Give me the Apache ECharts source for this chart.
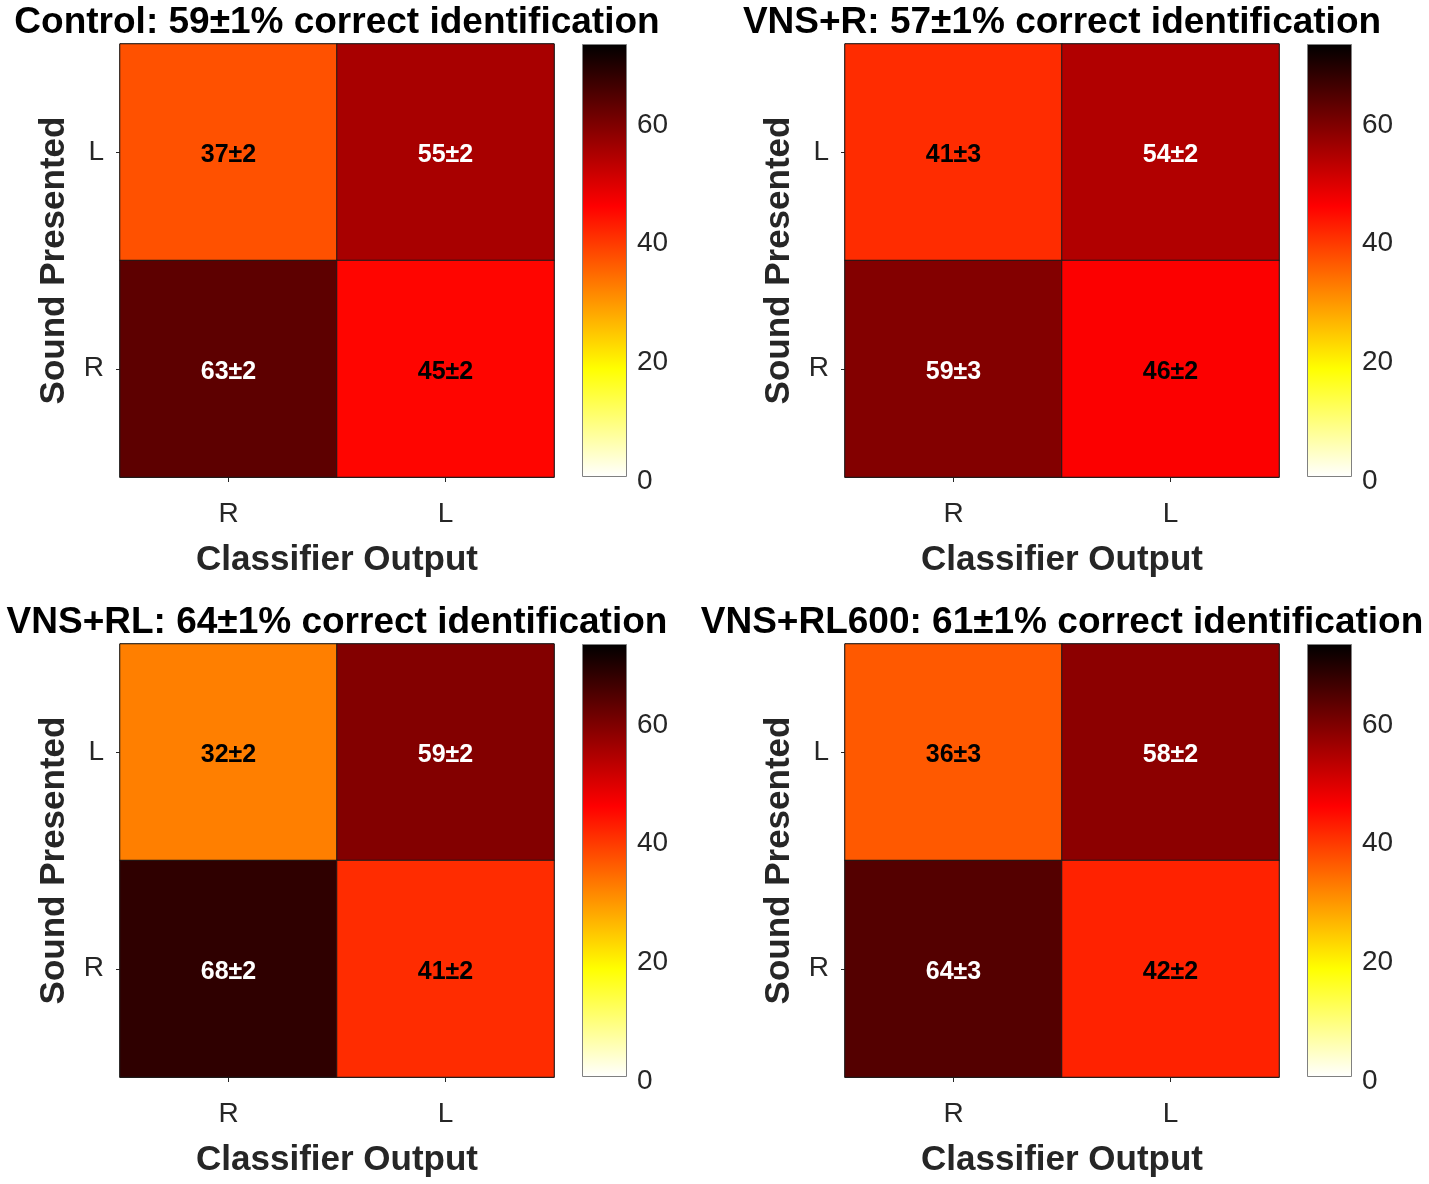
<!DOCTYPE html>
<html>
<head>
<meta charset="utf-8">
<script src="https://cdn.jsdelivr.net/npm/echarts@6/dist/echarts.min.js"></script>
<style>html,body{margin:0;padding:0;background:#fff}#c{width:1429px;height:1184px}</style>
</head>
<body>
<div id="c"></div>
<script>
// ---- data ----
var titles = ['Control: 59\u00b11% correct identification', 'VNS+R: 57\u00b11% correct identification',
              'VNS+RL: 64\u00b11% correct identification', 'VNS+RL600: 61\u00b11% correct identification'];
var xCategories = ['R', 'L'];          // Classifier Output
var yCategories = ['R', 'L'];          // Sound Presented (bottom to top)
// values per panel: [row L: out R, out L], [row R: out R, out L]
var controlL = [37, 55], controlR = [63, 45];
var controlLerr = [2, 2], controlRerr = [2, 2];
var vnsrL = [41, 54], vnsrR = [59, 46];
var vnsrLerr = [3, 2], vnsrRerr = [3, 2];
var vnsrlL = [32, 59], vnsrlR = [68, 41];
var vnsrlLerr = [2, 2], vnsrlRerr = [2, 2];
var vnsrl600L = [36, 58], vnsrl600R = [64, 42];
var vnsrl600Lerr = [3, 2], vnsrl600Rerr = [3, 2];
var colorTicks = [0, 20, 40, 60];
var CMAX = 73;

var panels = [
  {L: controlL, R: controlR, Le: controlLerr, Re: controlRerr},
  {L: vnsrL, R: vnsrR, Le: vnsrLerr, Re: vnsrRerr},
  {L: vnsrlL, R: vnsrlR, Le: vnsrlLerr, Re: vnsrlRerr},
  {L: vnsrl600L, R: vnsrl600R, Le: vnsrl600Lerr, Re: vnsrl600Rerr}
];

// reversed MATLAB "hot" colormap
function hot(t) {
  var r = Math.min(1, t / 0.375), g = Math.max(0, Math.min(1, (t - 0.375) / 0.375)), b = Math.max(0, Math.min(1, (t - 0.75) / 0.25));
  return 'rgb(' + Math.round(r * 255) + ',' + Math.round(g * 255) + ',' + Math.round(b * 255) + ')';
}
var cmap = [];
for (var i = 0; i <= 80; i++) cmap.push(hot(1 - i / 80));

var FONT = '"Liberation Sans", Arial, sans-serif';
var colLeft = [120, 845], rowTop = [44, 644];
var GW = 434, GH = 433, CBOFF = 462, CBW = 45;

var grids = [], xAxes = [], yAxes = [], series = [], graphics = [];
var heatSeries = [], barSeries = [];
panels.forEach(function (p, k) {
  var left = colLeft[k % 2], top = rowTop[Math.floor(k / 2)];
  grids.push({left: left, top: top, width: GW, height: GH, show: true, borderColor: '#262626', borderWidth: 1, backgroundColor: 'transparent'});
  grids.push({left: left + CBOFF, top: top, width: CBW, height: GH});
  var gi = 2 * k;
  xAxes.push({gridIndex: gi, type: 'category', data: xCategories, name: 'Classifier Output', nameLocation: 'middle', nameGap: 66,
    nameTextStyle: {fontFamily: FONT, fontWeight: 'bold', fontSize: 35, color: '#262626'},
    axisLine: {show: true, lineStyle: {color: '#262626'}}, axisTick: {show: true, alignWithLabel: true, length: 5, lineStyle: {color: '#262626'}},
    axisLabel: {fontFamily: FONT, fontSize: 28, color: '#262626', margin: 23}, splitLine: {show: false}});
  yAxes.push({gridIndex: gi, type: 'category', data: yCategories, name: 'Sound Presented', nameLocation: 'middle', nameGap: 48,
    nameTextStyle: {fontFamily: FONT, fontWeight: 'bold', fontSize: 35, color: '#262626'},
    axisLine: {show: true, lineStyle: {color: '#262626'}}, axisTick: {show: true, alignWithLabel: true, length: 4, lineStyle: {color: '#262626'}},
    axisLabel: {fontFamily: FONT, fontSize: 28, color: '#262626', margin: 16}, splitLine: {show: false}});
  xAxes.push({gridIndex: gi + 1, type: 'category', data: [''], show: false});
  yAxes.push({gridIndex: gi + 1, type: 'value', min: 0, max: CMAX, interval: 20, position: 'right',
    axisLine: {show: false}, axisTick: {show: false}, splitLine: {show: false},
    axisLabel: {margin: 10, showMaxLabel: false, formatter: '{a|{value}}',
      rich: {a: {fontFamily: FONT, fontSize: 28, color: '#262626', padding: [8, 0, 0, 0]}}}});
  var data = [];
  [['L', 1], ['R', 0]].forEach(function (row) {
    var vals = p[row[0]], errs = p[row[0] + 'e'];
    vals.forEach(function (v, xi) {
      data.push({value: [xi, row[1], v], err: errs[xi], label: {color: v > 50 ? '#ffffff' : '#000000'}});
    });
  });
  heatSeries.push({type: 'heatmap', xAxisIndex: gi, yAxisIndex: gi, data: data,
    itemStyle: {borderColor: '#1a1a1a', borderWidth: 1},
    label: {show: true, fontFamily: FONT, fontWeight: 'bold', fontSize: 25, offset: [0, 3],
      formatter: function (pr) { return pr.value[2] + '\u00b1' + pr.data.err; }},
    emphasis: {disabled: true}});
  barSeries.push({type: 'bar', xAxisIndex: gi + 1, yAxisIndex: gi + 1, data: [CMAX], barWidth: '100%', silent: true,
    itemStyle: {borderColor: '#808080', borderWidth: 1,
      color: new echarts.graphic.LinearGradient(0, 0, 0, 1, [
        {offset: 0, color: '#000000'}, {offset: 0.375, color: '#ff0000'}, {offset: 0.75, color: '#ffff00'}, {offset: 1, color: '#ffffff'}])}});
  graphics.push({type: 'text', x: left + GW / 2, y: top - 21,
    style: {text: titles[k], font: 'bold 37px ' + FONT, fill: '#000', align: 'center', verticalAlign: 'middle'}});
});
series = heatSeries.concat(barSeries);

var chart = echarts.init(document.getElementById('c'));
chart.setOption({
  animation: false,
  backgroundColor: '#ffffff',
  grid: grids, xAxis: xAxes, yAxis: yAxes,
  visualMap: {type: 'continuous', show: false, min: 0, max: CMAX, seriesIndex: [0, 1, 2, 3], inRange: {color: cmap}},
  series: series,
  graphic: graphics
});
</script>
</body>
</html>
